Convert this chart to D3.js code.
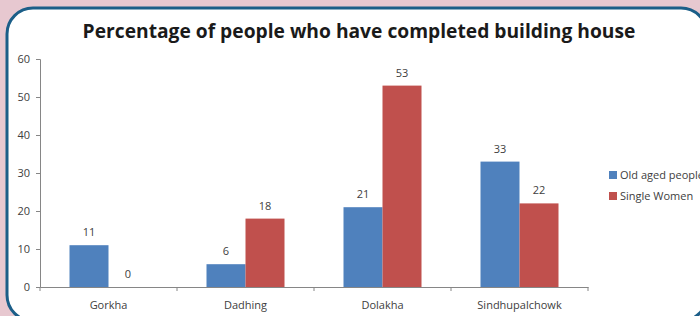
<!DOCTYPE html>
<html>

<head>
  <meta charset="UTF-8">
  <script src="https://d3js.org/d3.v7.js"></script>
  <style>
    body { margin: 0; background: #e7c8d0; }
    svg { display: block; }
  </style>
</head>

<body>
  <div id="chart"></div>

  <script>
    // data

    const districts = ["Gorkha", "Dadhing", "Dolakha", "Sindhupalchowk"];
    const seriesNames = ["Old aged people", "Single Women"];
    const oldAged = [11, 6, 21, 33];
    const singleWomen = [0, 18, 53, 22];
    const yTicks = [0, 10, 20, 30, 40, 50, 60];

    const colors = ["#4f81bd", "#c0504d"];
    const font = "'Open Sans', 'Liberation Sans', sans-serif";

    // set up

    const W = 700, H = 316;

    const svg = d3.select('#chart')
      .append('svg')
        .attr('width', W)
        .attr('height', H);

    // frame
    svg.append('rect')
        .attr('x', 7)
        .attr('y', 8)
        .attr('width', 700)
        .attr('height', 313)
        .attr('rx', 26)
        .attr('fill', '#fff')
        .attr('stroke', '#1b5e88')
        .attr('stroke-width', 3);

    // title
    const title = svg.append('text')
        .attr('x', 359)
        .attr('y', 38)
        .attr('text-anchor', 'middle')
        .style('font-family', font)
        .style('font-weight', 'bold')
        .style('font-size', '19px')
        .attr('fill', '#1a1a1a')
        .text('Percentage of people who have completed building house');
    // fit to the width seen in the picture
    const tw = title.node().getComputedTextLength();
    title.style('font-size', (19 * 553 / tw) + 'px');

    // scales

    const x = d3.scaleBand()
        .domain(districts)
        .range([40, 588]);

    const xs = d3.scaleBand()
        .domain(seriesNames)
        .range([29.5, x.bandwidth() - 29.5]);

    const y = d3.scaleLinear()
        .domain([0, 60])
        .range([287, 59]);

    // axes

    const yAxis = svg.append('g')
        .attr('transform', 'translate(40,0)')
        .call(d3.axisLeft(y).tickValues(yTicks).tickSize(4).tickPadding(6));
    yAxis.selectAll('line, path').attr('stroke', '#868686');
    yAxis.selectAll('text')
        .attr('fill', '#404040')
        .style('font-family', font)
        .style('font-size', '11px');

    const xAxis = svg.append('g')
        .attr('transform', `translate(0,${y(0)})`)
        .call(d3.axisBottom(x).tickSize(0).tickPadding(14));
    xAxis.select('.domain').attr('stroke', '#868686');
    xAxis.selectAll('text')
        .attr('fill', '#404040')
        .style('font-family', font)
        .style('font-size', '11px');

    // tick marks sit on category boundaries
    const bounds = districts.map(d => x(d)).concat([x.range()[1]]);
    xAxis.selectAll('.bound')
      .data(bounds)
      .join('line')
        .attr('class', 'bound')
        .attr('x1', d => d)
        .attr('x2', d => d)
        .attr('y1', 0)
        .attr('y2', 4)
        .attr('stroke', '#868686');

    // bars

    const rows = districts.map((d, i) => ({ district: d, values: [oldAged[i], singleWomen[i]] }));

    const groups = svg.append('g')
      .selectAll('g')
      .data(rows)
      .join('g')
        .attr('transform', d => `translate(${x(d.district)},0)`);

    groups.selectAll('rect')
      .data(d => d.values.map((v, k) => ({ key: seriesNames[k], k, v })))
      .join('rect')
        .attr('x', d => xs(d.key))
        .attr('y', d => y(d.v))
        .attr('width', xs.bandwidth())
        .attr('height', d => y(0) - y(d.v))
        .attr('fill', d => colors[d.k]);

    groups.selectAll('text')
      .data(d => d.values.map((v, k) => ({ key: seriesNames[k], k, v })))
      .join('text')
        .attr('x', d => xs(d.key) + xs.bandwidth() / 2)
        .attr('y', d => y(d.v) - 9)
        .attr('text-anchor', 'middle')
        .attr('fill', '#404040')
        .style('font-family', font)
        .style('font-size', '11px')
        .text(d => d.v);

    // legend

    const legend = svg.append('g')
      .selectAll('g')
      .data(seriesNames)
      .join('g')
        .attr('transform', (d, i) => `translate(609,${171 + i * 21})`);

    legend.append('rect')
        .attr('width', 8)
        .attr('height', 8)
        .attr('fill', (d, i) => colors[i]);

    legend.append('text')
        .attr('x', 11)
        .attr('y', 8)
        .attr('fill', '#404040')
        .style('font-family', font)
        .style('font-size', '11px')
        .text(d => d);
  </script>
</body>

</html>
